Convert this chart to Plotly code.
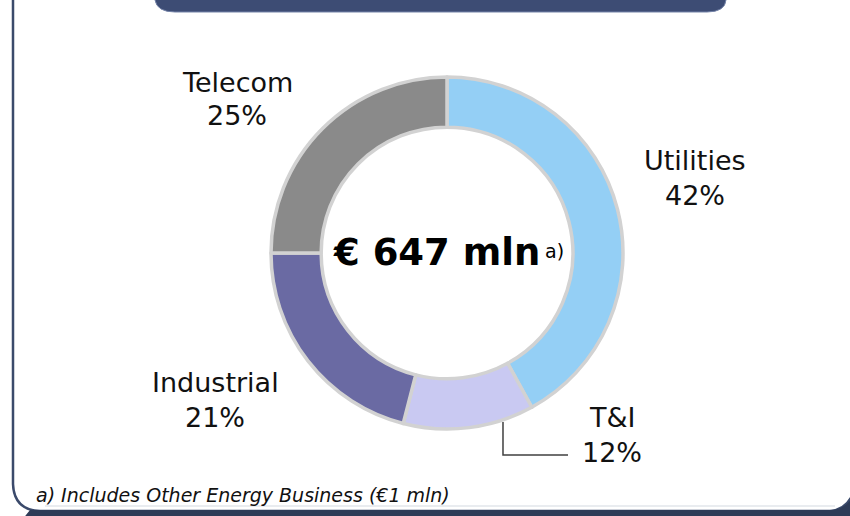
import plotly.graph_objects as go

# ---- data ----
segments = ["Utilities", "T&I", "Industrial", "Telecom"]
shares = [42, 12, 21, 25]
share_labels = ["42%", "12%", "21%", "25%"]
seg_colors = ["#94cff5", "#c9c9f2", "#6a6aa3", "#8a8a8a"]
center_total = "€ 647 mln"
center_note = "a)"
footnote = "a) Includes Other Energy Business (€1 mln)"

W, H = 850, 516

def px(x):
    return x / W

def py(y):
    return 1 - y / H

def P(x, y):
    return f"{px(x):.5f},{py(y):.5f}"

# donut geometry (pixels)
cx, cy, r = 447, 253, 176

fig = go.Figure()
fig.add_trace(go.Pie(
    labels=segments,
    values=shares,
    sort=False,
    direction="clockwise",
    rotation=0,
    hole=0.715,
    textinfo="none",
    hoverinfo="label+percent",
    marker=dict(colors=seg_colors, line=dict(color="#d2d2d2", width=3.5)),
    domain=dict(x=[px(cx - r), px(cx + r)], y=[py(cy + r), py(cy - r)]),
    showlegend=False,
))

lab_font = dict(family="DejaVu Sans, Verdana, sans-serif", size=27, color="#111111")

# label positions (pixel centers of each text line)
label_pos = {
    "Utilities": (695, 160, 195),
    "T&I": (612, 417, 452),
    "Industrial": (215, 382, 417),
    "Telecom": (237, 82, 116),
}

annotations = []
for name, pct in zip(segments, share_labels):
    x, y1, y2 = label_pos[name]
    annotations.append(dict(x=px(x), y=py(y1), xref="paper", yref="paper",
                            text=name.replace("&", "&amp;"), showarrow=False,
                            xanchor="center", yanchor="middle", font=lab_font))
    annotations.append(dict(x=px(x), y=py(y2), xref="paper", yref="paper",
                            text=pct, showarrow=False,
                            xanchor="center", yanchor="middle", font=lab_font))

# center text
annotations.append(dict(x=px(542), y=py(252), xref="paper", yref="paper",
                        text="<b>" + center_total + "</b>", showarrow=False,
                        xanchor="right", yanchor="middle",
                        font=dict(family="DejaVu Sans, Verdana, sans-serif", size=37, color="#000000")))
annotations.append(dict(x=px(543), y=py(251), xref="paper", yref="paper",
                        text=center_note, showarrow=False,
                        xanchor="left", yanchor="middle",
                        font=dict(family="DejaVu Sans, Verdana, sans-serif", size=19, color="#000000")))

# footnote
annotations.append(dict(x=px(34), y=py(495), xref="paper", yref="paper",
                        text="<i>" + footnote + "</i>", showarrow=False,
                        xanchor="left", yanchor="middle",
                        font=dict(family="DejaVu Sans, Verdana, sans-serif", size=19, color="#111111")))

shapes = []
# header bar (cut off at top)
shapes.append(dict(type="path", xref="paper", yref="paper",
                   path=f"M {P(155,-12)} L {P(155,0)} Q {P(157,12)} {P(175,12)} L {P(707,12)} Q {P(725,12)} {P(726,0)} L {P(726,-12)} Z",
                   fillcolor="#3d4c74", line=dict(color="#7483a8", width=1)))
# left frame line with rounded corner
shapes.append(dict(type="path", xref="paper", yref="paper",
                   path=f"M {P(13,-5)} L {P(13,484)} Q {P(14,510)} {P(40,511)} L {P(830,511)} Q {P(845,510)} {P(852,496)}",
                   line=dict(color="#3b4a6b", width=2.5)))
# bottom dark band
shapes.append(dict(type="path", xref="paper", yref="paper",
                   path=f"M {P(30,510)} L {P(832,510)} Q {P(845,509)} {P(852,498)} L {P(852,520)} L {P(22,520)} Z",
                   fillcolor="#2e3b57", line=dict(width=0)))
# subtle light line above the band
shapes.append(dict(type="line", xref="paper", yref="paper",
                   x0=px(45), y0=py(506), x1=px(835), y1=py(506),
                   line=dict(color="#d3d9e0", width=1)))
# leader line for T&I
shapes.append(dict(type="path", xref="paper", yref="paper",
                   path=f"M {P(503,422)} L {P(503,455)} L {P(568,455)}",
                   line=dict(color="#404040", width=1.5)))

fig.update_layout(
    width=W, height=H,
    margin=dict(l=0, r=0, t=0, b=0),
    paper_bgcolor="white",
    plot_bgcolor="white",
    annotations=annotations,
    shapes=shapes,
)

fig.write_html("out.html",
               config={"displayModeBar": False},
               post_script="document.body.style.margin='0';document.body.style.overflow='hidden';")
